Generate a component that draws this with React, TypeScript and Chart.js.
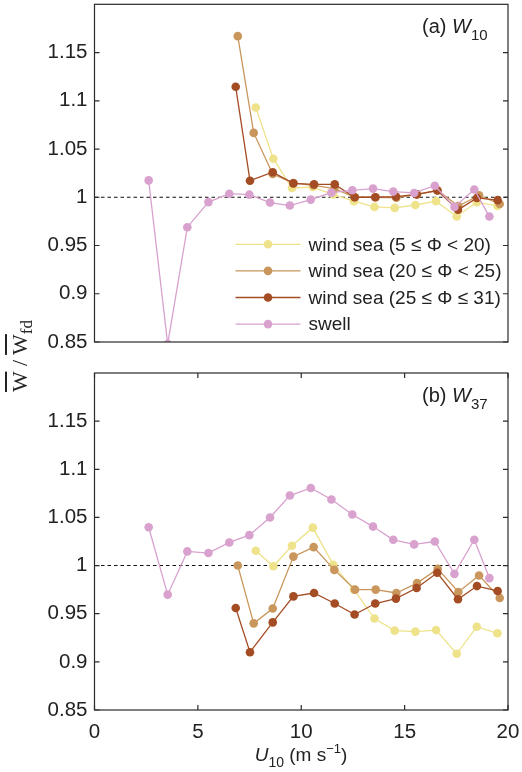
import React, { useEffect, useRef } from 'react';
import { Chart, registerables } from 'chart.js';
Chart.register(...registerables);

// ---------- data ----------
const U_WS1 = [7.8, 8.65, 9.55, 10.56, 11.55, 12.55, 13.54, 14.52, 15.52, 16.52, 17.52, 18.49, 19.49];
const U_WS2 = [6.93, 7.7, 8.62, 9.62, 10.6, 11.6, 12.6, 13.6, 14.6, 15.6, 16.6, 17.6, 18.6, 19.6];
const U_WS3 = [6.83, 7.52, 8.62, 9.62, 10.62, 11.62, 12.58, 13.58, 14.58, 15.58, 16.58, 17.58, 18.5, 19.5];
const U_SWELL = [2.62, 3.54, 4.49, 5.51, 6.52, 7.49, 8.49, 9.45, 10.46, 11.46, 12.47, 13.47, 14.45, 15.46, 16.46, 17.41, 18.37, 19.1];

const W10_WS1 = [1.093, 1.04, 1.0096, 1.0106, 1.0028, 0.996, 0.99, 0.989, 0.992, 0.996, 0.98, 0.995, 0.991];
const W10_WS2 = [1.167, 1.0667, 1.0241, 1.0147, 1.0124, 1.009, 1.0, 1.0, 0.9995, 1.003, 1.007, 0.991, 1.002, 0.993];
const W10_WS3 = [1.1145, 1.0172, 1.026, 1.0144, 1.0134, 1.0134, 1.0, 1.0, 1.0007, 1.003, 1.007, 0.987, 0.9993, 0.997];
const W10_SWELL = [1.0175, 0.848, 0.969, 0.995, 1.0037, 1.0027, 0.9945, 0.9914, 0.9976, 1.0048, 1.0072, 1.009, 1.0059, 1.0045, 1.012, 0.99, 1.008, 0.98];

const W37_WS1 = [1.0154, 0.9993, 1.0206, 1.0394, 1.0007, 0.975, 0.945, 0.9324, 0.9314, 0.933, 0.9084, 0.9365, 0.9297];
const W37_WS2 = [1.0, 0.94, 0.9554, 1.0093, 1.0192, 0.9955, 0.975, 0.975, 0.9715, 0.9818, 0.9966, 0.9726, 0.9897, 0.9664];
const W37_WS3 = [0.956, 0.91, 0.941, 0.968, 0.9715, 0.9606, 0.9492, 0.9606, 0.9657, 0.9767, 0.9925, 0.965, 0.9787, 0.9736];
const W37_SWELL = [1.0398, 0.9698, 1.0147, 1.013, 1.024, 1.0316, 1.05, 1.0727, 1.0806, 1.0686, 1.053, 1.0405, 1.0268, 1.022, 1.025, 0.9914, 1.0268, 0.987];

const SERIES_LABELS = ['wind sea (5 ≤ Φ < 20)', 'wind sea (20 ≤ Φ < 25)', 'wind sea (25 ≤ Φ ≤ 31)', 'swell'];
const SERIES_COLORS = ['#EEE28A', '#C9965C', '#A44C24', '#D8A1CE'];

const X_TICKS = [0, 5, 10, 15, 20];
const X_TICK_LABELS = ['0', '5', '10', '15', '20'];
const Y_TICKS = [0.85, 0.9, 0.95, 1, 1.05, 1.1, 1.15];
const Y_TICK_LABELS = ['0.85', '0.9', '0.95', '1', '1.05', '1.1', '1.15'];
const REF_X = [0, 20];
const REF_Y = 1;

const SANS = '"Liberation Sans", Arial, Helvetica, sans-serif';
const SERIF = '"Liberation Serif", "Times New Roman", serif';

const pts = (xs: number[], ys: number[]) => xs.map((x, i) => ({ x, y: ys[i] }));

const framePlugin = {
  id: 'frame',
  afterDatasetsDraw(chart: any, _args: any, opts: any) {
    const { ctx, chartArea: a, scales } = chart;
    ctx.save();
    ctx.strokeStyle = '#2a2a2a';
    ctx.lineWidth = 1.2;
    ctx.strokeRect(a.left, a.top, a.right - a.left, a.bottom - a.top);
    const L = 5;
    ctx.beginPath();
    for (const v of Y_TICKS) {
      const y = scales.y.getPixelForValue(v);
      ctx.moveTo(a.left, y); ctx.lineTo(a.left + L, y);
      ctx.moveTo(a.right, y); ctx.lineTo(a.right - L, y);
    }
    if (opts.xTicks) {
      for (const v of X_TICKS) {
        const x = scales.x.getPixelForValue(v);
        ctx.moveTo(x, a.top); ctx.lineTo(x, a.top + L);
        ctx.moveTo(x, a.bottom); ctx.lineTo(x, a.bottom - L);
      }
    }
    ctx.stroke();

    // panel label
    ctx.fillStyle = '#222';
    ctx.textBaseline = 'alphabetic';
    let x = a.right - 86;
    const by = a.top + 29;
    ctx.font = `20px ${SANS}`;
    ctx.fillText(opts.tag + ' ', x, by);
    x += ctx.measureText(opts.tag + ' ').width;
    ctx.font = `italic 20px ${SANS}`;
    ctx.fillText('W', x, by);
    x += ctx.measureText('W').width;
    ctx.font = `15px ${SANS}`;
    ctx.fillText(opts.sub, x, by + 7);

    // legend
    if (opts.legend) {
      const ds = chart.data.datasets.filter((d: any) => d.inLegend);
      const x0 = a.left + 141, x1 = a.left + 206, tx = a.left + 214;
      ds.forEach((d: any, i: number) => {
        const y = a.top + 240 + i * 26.6;
        ctx.strokeStyle = d.borderColor;
        ctx.lineWidth = 1.3;
        ctx.beginPath(); ctx.moveTo(x0, y); ctx.lineTo(x1, y); ctx.stroke();
        ctx.fillStyle = d.pointBackgroundColor;
        ctx.beginPath(); ctx.arc((x0 + x1) / 2, y, 4.3, 0, Math.PI * 2); ctx.fill();
        ctx.fillStyle = '#222';
        ctx.font = `19px ${SANS}`;
        ctx.textBaseline = 'middle';
        ctx.fillText(d.label, tx, y + 1);
      });
    }
    ctx.restore();
  },
};

function buildConfig(series: number[][], tag: string, sub: string, legend: boolean, bottom: boolean) {
  const us = [U_WS1, U_WS2, U_WS3, U_SWELL];
  const order = [3, 2, 1, 0];
  const datasets: any[] = series.map((ys, i) => ({
    label: SERIES_LABELS[i],
    data: pts(us[i], ys),
    borderColor: SERIES_COLORS[i],
    backgroundColor: SERIES_COLORS[i],
    pointBackgroundColor: SERIES_COLORS[i],
    pointBorderWidth: 0,
    pointRadius: 4.3,
    borderWidth: 1.3,
    order: order[i],
    inLegend: true,
  }));
  datasets.push({
    label: 'ref',
    data: REF_X.map((x) => ({ x, y: REF_Y })),
    borderColor: '#111',
    borderWidth: 1.1,
    borderDash: [3.5, 3],
    pointRadius: 0,
    order: 10,
    inLegend: false,
  });
  return {
    type: 'line',
    data: { datasets },
    options: {
      responsive: false,
      maintainAspectRatio: false,
      animation: false,
      events: [],
      layout: { padding: bottom ? { left: 0, right: 14, top: 13, bottom: 0 } : { left: 0, right: 14, top: 3, bottom: 18 } },
      plugins: {
        legend: { display: false },
        tooltip: { enabled: false },
        frame: { tag, sub, legend, xTicks: bottom },
      },
      scales: {
        x: {
          type: 'linear',
          min: 0,
          max: 20,
          display: bottom,
          grid: { display: false, drawTicks: false },
          border: { display: false },
          afterBuildTicks: (s: any) => { s.ticks = X_TICKS.map((v) => ({ value: v })); },
          afterFit: (s: any) => {
            s.height = bottom ? 62 : 0;
            s.paddingLeft = 0; s.paddingRight = 0; s.paddingTop = 0; s.paddingBottom = 0;
          },
          ticks: {
            autoSkip: false,
            maxRotation: 0,
            padding: 10,
            color: '#222',
            font: { family: SANS, size: 20.5 },
            callback: (_v: any, i: number) => X_TICK_LABELS[i],
          },
        },
        y: {
          type: 'linear',
          min: 0.85,
          max: 1.2,
          grid: { display: false, drawTicks: false },
          border: { display: false },
          afterBuildTicks: (s: any) => { s.ticks = Y_TICKS.map((v) => ({ value: v })); },
          afterFit: (s: any) => {
            s.width = 94.5;
            s.paddingTop = 0; s.paddingBottom = 0; s.paddingLeft = 0; s.paddingRight = 0;
          },
          ticks: {
            autoSkip: false,
            padding: 7,
            color: '#222',
            font: { family: SANS, size: 20.5 },
            callback: (_v: any, i: number) => Y_TICK_LABELS[i],
          },
        },
      },
    },
    plugins: [framePlugin],
  };
}

export default function App() {
  const topRef = useRef<HTMLCanvasElement | null>(null);
  const botRef = useRef<HTMLCanvasElement | null>(null);
  useEffect(() => {
    const c1 = new Chart(topRef.current as any, buildConfig([W10_WS1, W10_WS2, W10_WS3, W10_SWELL], '(a)', '10', true, false) as any);
    const c2 = new Chart(botRef.current as any, buildConfig([W37_WS1, W37_WS2, W37_WS3, W37_SWELL], '(b)', '37', false, true) as any);
    return () => { c1.destroy(); c2.destroy(); };
  }, []);
  const ov: React.CSSProperties = { textDecoration: 'overline' };
  return (
    <div style={{ position: 'absolute', left: 0, top: 0, width: 522, height: 772, background: '#fff', overflow: 'hidden' }}>
      <canvas ref={topRef} width={522} height={360} style={{ position: 'absolute', left: 0, top: 0, width: 522, height: 360 }} />
      <canvas ref={botRef} width={522} height={412} style={{ position: 'absolute', left: 0, top: 360, width: 522, height: 412 }} />
      <div style={{ position: 'absolute', left: 20, top: 356, transform: 'translate(-50%, -50%) rotate(-90deg)', whiteSpace: 'nowrap', fontFamily: SERIF, fontSize: 22, lineHeight: 1, color: '#222' }}>
        <span style={ov}>W</span> / <span style={ov}>W</span>
        <span style={{ position: 'relative', top: 5, fontSize: 17 }}>fd</span>
      </div>
      <div style={{ position: 'absolute', left: 301, top: 745, transform: 'translateX(-50%)', whiteSpace: 'nowrap', fontFamily: SANS, fontSize: 19, lineHeight: 1, color: '#222' }}>
        <i>U</i>
        <span style={{ position: 'relative', top: 6, fontSize: 14 }}>10</span> (m s
        <span style={{ position: 'relative', top: -8, fontSize: 13 }}>−1</span>)
      </div>
    </div>
  );
}
